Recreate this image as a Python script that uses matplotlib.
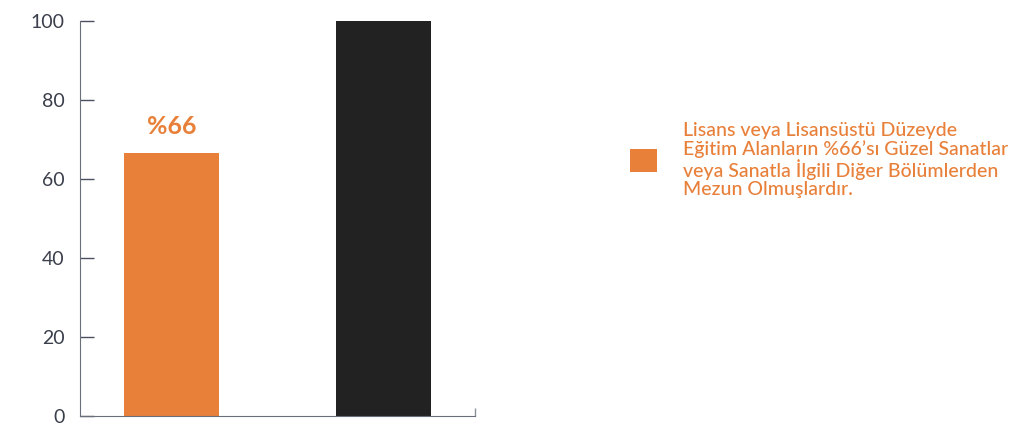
import matplotlib
matplotlib.use("Agg")
import matplotlib.pyplot as plt
from matplotlib.patches import Patch

categories = ["Güzel Sanatlar", "Toplam"]
values = [66.5, 100]
bar_colors = ["#E8803A", "#222222"]
value_label = "%66"
legend_text = ("Lisans veya Lisansüstü Düzeyde\n"
               "Eğitim Alanların %66’sı Güzel Sanatlar\n"
               "veya Sanatla İlgili Diğer Bölümlerden\n"
               "Mezun Olmuşlardır.")
yticks = [0, 20, 40, 60, 80, 100]

plt.rcParams['font.family'] = ['Lato', 'DejaVu Sans']

fig = plt.figure(figsize=(10.27, 4.25), dpi=100)
ax = fig.add_axes([80/1027, 1-416/425, 395/1027, 395/425])

x = list(range(len(categories)))
ax.bar(x, values, width=0.448, color=bar_colors)
ax.set_xlim(-0.4316, 1.4316)
ax.set_ylim(0, 100)
ax.set_yticks(yticks)
ax.tick_params(axis='y', direction='in', length=10, width=1, color='#4a5060',
               labelsize=14, labelcolor='#3a3f4b', pad=11)
ax.set_xticks([1.4316])
ax.set_xticklabels([""])
ax.tick_params(axis='x', direction='in', length=6, width=1, color='#8a8f9a')
for s in ['top', 'right']:
    ax.spines[s].set_visible(False)
ax.spines['left'].set_color('#6a6f7a')
ax.spines['bottom'].set_color('#6a6f7a')

ax.text(x[0], values[0] + 4, value_label, ha='center', va='bottom',
        fontsize=18, fontweight='bold', color=bar_colors[0])

handle = Patch(facecolor=bar_colors[0], edgecolor='none')
leg = fig.legend([handle], [legend_text], loc='center left',
                 bbox_to_anchor=(612/1027, 1-160/425), frameon=False,
                 handlelength=1.4, handleheight=1.4, handletextpad=1.35,
                 prop={'size': 14, 'weight': 'medium'}, labelcolor=bar_colors[0])
for t in leg.get_texts():
    t.set_linespacing(1.07)

fig.savefig("out.png", dpi=100)
